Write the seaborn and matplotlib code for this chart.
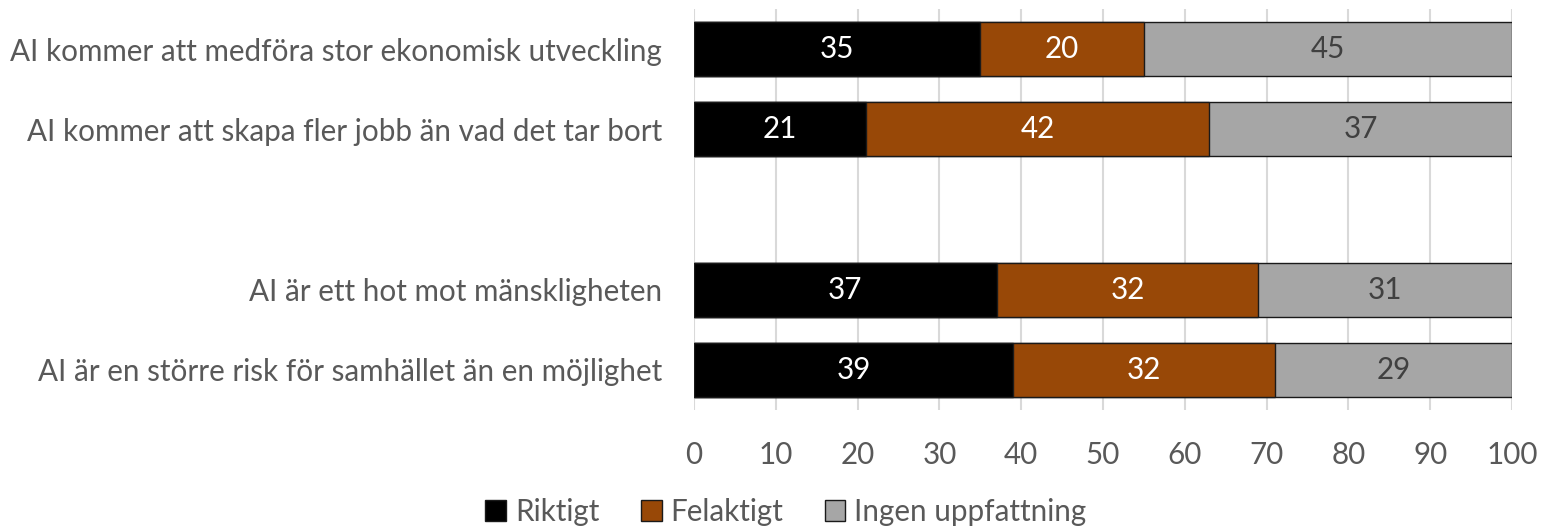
import pandas as pd
import numpy as np
import seaborn as sns
import matplotlib.pyplot as plt
from matplotlib.patches import Patch

# data
statements = [
    "AI kommer att medföra stor ekonomisk utveckling",
    "AI kommer att skapa fler jobb än vad det tar bort",
    "AI är ett hot mot mänskligheten",
    "AI är en större risk för samhället än en möjlighet",
]
riktigt = [35, 21, 37, 39]
felaktigt = [20, 42, 32, 32]
ingen = [45, 37, 31, 29]
series_names = ["Riktigt", "Felaktigt", "Ingen uppfattning"]
series_colors = ["#000000", "#984807", "#A6A6A6"]
label_colors = ["white", "white", "#404040"]
x_ticks = list(range(0, 101, 10))

# empty slot between the two pairs of statements
order = statements[:2] + [" "] + statements[2:]

df = pd.DataFrame({"statement": statements, "Riktigt": riktigt,
                   "Felaktigt": felaktigt, "Ingen uppfattning": ingen})
df["cum1"] = df["Riktigt"]
df["cum2"] = df["Riktigt"] + df["Felaktigt"]
df["cum3"] = df["cum2"] + df["Ingen uppfattning"]

sns.set_theme(style="white")
plt.rcParams["font.family"] = ["Lato", "DejaVu Sans"]
text_col = "#595959"
fs = 21.3

fig = plt.figure(figsize=(15.41, 5.28), dpi=100)
ax = fig.add_axes([694 / 1541, 1 - 410 / 528, (1512 - 694) / 1541, (410 - 9) / 528])

# stacked by overdrawing cumulative totals, widest first
for col, color in zip(["cum3", "cum2", "cum1"], series_colors[::-1]):
    sns.barplot(data=df, x=col, y="statement", order=order, orient="h",
                color=color, width=0.67, errorbar=None, edgecolor="#1a1a1a",
                linewidth=1.0, saturation=1, ax=ax, zorder=3)

# value labels in the middle of each segment
pos = {s: order.index(s) for s in statements}
for _, row in df.iterrows():
    start = 0
    for name, lc in zip(series_names, label_colors):
        v = row[name]
        ax.text(start + v / 2, pos[row["statement"]], str(v), ha="center",
                va="center", color=lc, fontsize=fs, zorder=5)
        start += v

ax.set_xlim(0, 100)
ax.set_ylim(len(order) - 0.5, -0.5)
ax.set_xticks(x_ticks)
ax.set_xticklabels([str(t) for t in x_ticks])
ax.set_xlabel("")
ax.set_ylabel("")
ax.grid(axis="x", color="#D9D9D9", linewidth=1.5, zorder=0)
ax.set_axisbelow(True)
for sp in ax.spines.values():
    sp.set_visible(False)
ax.tick_params(axis="x", length=0, pad=22, labelsize=fs, labelcolor=text_col)
ax.tick_params(axis="y", length=0, pad=23, labelsize=fs, labelcolor=text_col)

handles = [Patch(facecolor=c, edgecolor="#1a1a1a", linewidth=1.0) for c in series_colors]
fig.legend(handles, series_names, loc="center", bbox_to_anchor=(786 / 1541, 1 - 512 / 528),
           ncol=3, frameon=False, fontsize=fs, labelcolor=text_col,
           handlelength=0.7, handleheight=0.7, handletextpad=0.3, columnspacing=1.4,
           borderpad=0)

fig.savefig("out.png", dpi=100)
